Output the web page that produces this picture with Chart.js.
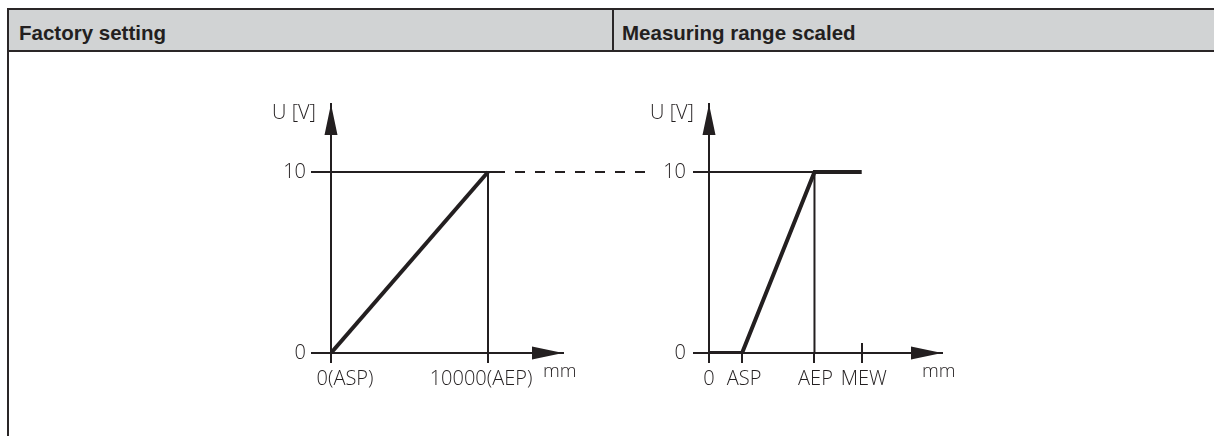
<!DOCTYPE html>
<html>
<head>
<meta charset="utf-8">
<script src="https://cdn.jsdelivr.net/npm/chart.js@4.4.1/dist/chart.umd.min.js"></script>
<style>
  html, body { margin: 0; padding: 0; background: #fff; width: 1214px; height: 436px; overflow: hidden; position: relative; }
  .head { position: absolute; left: 7px; top: 8px; width: 1205px; height: 40px; background: #d1d3d4;
          border: 2px solid #2a2627; border-right: none; }
  .divider { position: absolute; left: 612px; top: 8px; width: 2px; height: 44px; background: #2a2627; }
  .side { position: absolute; left: 7px; top: 52px; width: 2px; height: 384px; background: #2a2627; }
  .title { position: absolute; top: 21px; line-height: 20px; font: bold 20.5px 'Liberation Sans', Arial, sans-serif; color: #231f20; }
  canvas { position: absolute; }
</style>
</head>
<body>
<div class="head"></div>
<div class="divider"></div>
<div class="side"></div>
<div class="title" style="left:19px">Factory setting</div>
<div class="title" style="left:622px">Measuring range scaled</div>
<canvas id="factory" width="456" height="320" style="left:200px;top:90px"></canvas>
<canvas id="scaled" width="360" height="320" style="left:630px;top:90px"></canvas>
<script>
// output voltage ticks (V)
const voltTicks = [0, 10];

// factory setting: 0..10000 mm -> 0..10 V
const factoryX = [0, 10000];
const factoryU = [0, 10];
const factoryTickLabels = ['0(ASP)', '10000(AEP)'];
const factoryLevelX = [0, 10700];   // solid 10 V line
const linkX = [10700, 20000];       // dashed link to the scaled diagram

// scaled range: 0, ASP, AEP, MEW (mm, nominal)
const scaledX = [0, 2100, 6700, 9700];
const scaledU = [0, 0, 10, 10];
const scaledTickLabels = ['0', 'ASP', 'AEP', 'MEW'];

const ink = '#231f20';
const lightFont = "'Open Sans', sans-serif";

function lineSet(xs, us, width, extra) {
  return Object.assign({
    data: xs.map((v, i) => ({ x: v, y: us[i] })),
    borderColor: ink, borderWidth: width, pointRadius: 0, fill: false, tension: 0
  }, extra || {});
}

function axisScales(xMax, uMax, xTicks, yTickLen, yPad) {
  return {
    x: {
      type: 'linear', min: 0, max: xMax,
      afterBuildTicks: s => { s.ticks = xTicks.map(v => ({ value: v })); },
      afterFit: s => { s.height = 40; s.paddingLeft = 0; s.paddingRight = 0; },
      grid: { drawOnChartArea: false, tickLength: 10, lineWidth: 2, color: ink },
      border: { width: 2, color: ink },
      ticks: { display: false, autoSkip: false }
    },
    y: {
      type: 'linear', min: 0, max: uMax,
      afterBuildTicks: s => { s.ticks = voltTicks.map(v => ({ value: v })); },
      afterFit: s => { s.width = 50; s.paddingTop = 0; s.paddingBottom = 0; },
      grid: { drawOnChartArea: false, tickLength: yTickLen, lineWidth: 2, color: ink },
      border: { width: 2, color: ink },
      ticks: { autoSkip: false, padding: yPad, color: ink, font: { family: lightFont, size: 20, weight: 300 },
               callback: v => String(v) }
    }
  };
}

// arrows, upward tick marks and axis texts
const diagramDecor = {
  id: 'diagramDecor',
  afterDraw(chart, args, o) {
    const { ctx, chartArea: a, scales: { x, y } } = chart;
    const ox = x.getPixelForValue(0), oy = y.getPixelForValue(0);
    ctx.save();
    ctx.fillStyle = ink;
    ctx.strokeStyle = ink;
    ctx.beginPath();
    ctx.moveTo(ox, a.top); ctx.lineTo(ox - 6.5, a.top + 31); ctx.lineTo(ox + 6.5, a.top + 31); ctx.closePath();
    ctx.moveTo(a.right, oy); ctx.lineTo(a.right - 31, oy - 6.5); ctx.lineTo(a.right - 31, oy + 6.5); ctx.closePath();
    ctx.fill();

    ctx.lineWidth = 2;
    (o.upTicks || []).forEach(v => {
      const px = Math.round(x.getPixelForValue(v));
      ctx.beginPath(); ctx.moveTo(px, oy); ctx.lineTo(px, oy - 10); ctx.stroke();
    });

    ctx.font = '300 20px ' + lightFont;
    ctx.textAlign = 'center';
    ctx.textBaseline = 'alphabetic';
    x.ticks.forEach((t, i) => {
      const shift = o.shift ? o.shift[i] : 0;
      ctx.fillText(o.labels[i], x.getPixelForValue(t.value) + shift, oy + 32);
    });
    ctx.textAlign = 'right';
    ctx.fillText('U [V]', ox - 15, a.top + 15);
    ctx.font = '300 19px ' + lightFont;
    ctx.textAlign = 'left';
    ctx.fillText('mm', a.right - 20, oy + 24);
    ctx.restore();
  }
};

new Chart(document.getElementById('factory'), {
  type: 'line',
  data: {
    datasets: [
      lineSet(factoryLevelX, [10, 10], 2),
      lineSet([factoryX[1], factoryX[1]], [10, 0], 2),
      lineSet(linkX, [10, 10], 2, { borderDash: [10, 10], borderDashOffset: 4, clip: false }),
      lineSet(factoryX, factoryU, 4)
    ]
  },
  options: {
    responsive: false, animation: false, devicePixelRatio: 1,
    layout: { padding: { left: 81, right: 93, top: 14, bottom: 17 } },
    plugins: {
      legend: { display: false }, tooltip: { enabled: false },
      diagramDecor: { labels: factoryTickLabels, shift: [14, -7] }
    },
    scales: axisScales(14777, 13.757, factoryX, 20, 5)
  },
  plugins: [diagramDecor]
});

new Chart(document.getElementById('scaled'), {
  type: 'line',
  data: {
    datasets: [
      lineSet([0, scaledX[2]], [10, 10], 2),
      lineSet([scaledX[2], scaledX[2]], [10, 0], 2),
      lineSet(scaledX, scaledU, 4)
    ]
  },
  options: {
    responsive: false, animation: false, devicePixelRatio: 1,
    layout: { padding: { left: 29, right: 48, top: 14, bottom: 17 } },
    plugins: {
      legend: { display: false }, tooltip: { enabled: false },
      diagramDecor: { labels: scaledTickLabels, shift: [0, 2, 1, 2], upTicks: [scaledX[3]] }
    },
    scales: axisScales(14800, 13.757, scaledX, 16, 7)
  },
  plugins: [diagramDecor]
});
</script>
</body>
</html>
